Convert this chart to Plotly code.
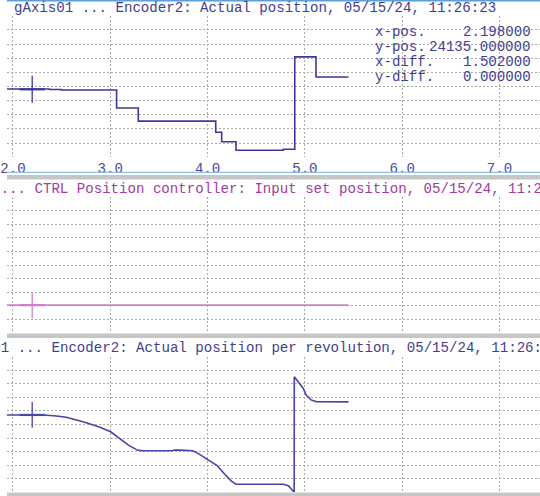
import numpy as np
import plotly.graph_objects as go

# ---------------- data ----------------
x_ticks = [2, 3, 4, 5, 6, 7]
x_tick_labels = ["2.0", "3.0", "4.0", "5.0", "6.0", "7.0"]
x_range = [1.939, 7.416]

# Panel 1: Encoder2 actual position (step trace)
pos_x = [1.90, 2.375, 2.497, 3.065, 3.288, 4.084, 4.145, 4.292, 4.779, 4.896, 5.114, 5.448]
pos_y = [24135, 24100, 24064, 22788, 21866, 21085, 20411, 19809, 19880, 26404, 24986, 24986]
pos_range = [19312, 29312]

# Panel 2: CTRL position controller input set position
set_x = [1.90, 5.448]
set_y = [24135, 24135]
set_range = [22076, 32076]

# Panel 3: Encoder2 actual position per revolution
rev_x = [1.90, 2.314, 2.446, 2.548, 2.720, 2.882, 3.004, 3.085, 3.187, 3.278, 3.329,
         3.633, 3.663, 3.714, 3.846, 3.897, 3.978, 4.049, 4.099, 4.170, 4.241, 4.292,
         4.779, 4.830, 4.860, 4.890, 4.891, 4.931, 4.982, 5.012, 5.063, 5.114, 5.448]
rev_y = [2852, 2852, 2815, 2767, 2604, 2419, 2233, 2026, 1741, 1556, 1530,
         1530, 1556, 1556, 1530, 1444, 1259, 1111, 981, 693, 419, 296,
         296, 241, 111, 0, 4259, 4085, 3841, 3593, 3408, 3345, 3333]
rev_range = [0, 5000]

titles = [
    "gAxis01 ... Encoder2: Actual position, 05/15/24, 11:26:23",
    "gAxis01 ... CTRL Position controller: Input set position, 05/15/24, 11:26:23",
    "gAxis01 ... Encoder2: Actual position per revolution, 05/15/24, 11:26:23",
]
cursor_labels = ["x-pos.", "y-pos.", "x-diff.", "y-diff."]
cursor_values = ["2.198000", "24135.000000", "1.502000", "0.000000"]
cursor_x = 2.198

# ---------------- style ----------------
W, H = 540, 496
FONT = "Liberation Mono, Courier New, monospace"
FS = 14.1
NAVY = "#3f3f91"
MAG_TXT = "#a03ca0"
LINE1 = "#3a3a9c"
LINE2 = "#cc7fcc"
LINE3 = "#4646a8"
GRID = "#a8a8a8"

def py(p):
    return 1 - p / H

panels = [
    dict(dom=[py(157), py(16)], rng=pos_range, x=pos_x, y=pos_y, color=LINE1, shape="hv"),
    dict(dom=[py(333), py(197)], rng=set_range, x=set_x, y=set_y, color=LINE2, shape="linear"),
    dict(dom=[py(492), py(357)], rng=rev_range, x=rev_x, y=rev_y, color=LINE3, shape="linear"),
]

fig = go.Figure()
for i, p in enumerate(panels):
    n = "" if i == 0 else str(i + 1)
    xa, ya = "x" + n, "y" + n
    fig.add_trace(go.Scatter(x=p["x"], y=p["y"], mode="lines", xaxis=xa, yaxis=ya,
                             line=dict(color=p["color"], width=1.6, shape=p["shape"]),
                             hoverinfo="skip", showlegend=False))
    d = (p["rng"][1] - p["rng"][0]) / 10
    cy = float(np.interp(cursor_x, p["x"], p["y"]))
    # cursor cross
    fig.add_trace(go.Scatter(x=[cursor_x, cursor_x], y=[cy - 0.95 * d, cy + 0.95 * d],
                             mode="lines", xaxis=xa, yaxis=ya,
                             line=dict(color=p["color"], width=1.3),
                             hoverinfo="skip", showlegend=False))
    fig.add_trace(go.Scatter(x=[cursor_x - 0.13, cursor_x + 0.13], y=[cy, cy],
                             mode="lines", xaxis=xa, yaxis=ya,
                             line=dict(color=p["color"], width=2.2),
                             hoverinfo="skip", showlegend=False))
    lo, hi = p["rng"]
    fig.layout["xaxis" + n] = dict(
        domain=[0, 1], range=x_range, anchor=ya, tickmode="array",
        tickvals=x_ticks, ticktext=x_tick_labels, showticklabels=(i == 0),
        ticks="", showgrid=True, gridcolor=GRID, griddash="2px,2px", gridwidth=1,
        zeroline=False, showline=False, ticklabeloverflow="allow",
        tickfont=dict(family=FONT, size=FS, color="#4a4a9a"), ticklabelstandoff=1,
    )
    fig.layout["yaxis" + n] = dict(
        domain=p["dom"], range=[lo + 0.02 * d, hi - 0.02 * d], anchor=xa,
        tick0=lo, dtick=d, showticklabels=False, ticks="", showgrid=True,
        gridcolor=GRID, griddash="2px,2px", gridwidth=1, zeroline=False, showline=False,
    )

# titles
title_y = [8.5, 189, 347.5]
title_col = [NAVY, MAG_TXT, NAVY]
for t, yy, c in zip(titles, title_y, title_col):
    fig.add_annotation(text=t, x=251 / W, y=py(yy), xref="paper", yref="paper",
                       xanchor="center", yanchor="middle", showarrow=False,
                       font=dict(family=FONT, size=FS, color=c))

# cursor readout
for k, (lab, val) in enumerate(zip(cursor_labels, cursor_values)):
    yy = py(32 + 15 * k)
    fig.add_annotation(text=lab, x=371 / W, y=yy, xref="paper", yref="paper",
                       xanchor="left", yanchor="middle", showarrow=False,
                       font=dict(family=FONT, size=FS, color=NAVY))
    fig.add_annotation(text=val, x=533 / W, y=yy, xref="paper", yref="paper",
                       xanchor="right", yanchor="middle", showarrow=False,
                       font=dict(family=FONT, size=FS, color=NAVY))

# window frame decorations
shapes = [
    dict(type="rect", xref="paper", yref="paper", x0=0, x1=1, y0=py(1.5), y1=py(0),
         fillcolor="#5a9fdc", line_width=0, layer="above"),
    dict(type="rect", xref="paper", yref="paper", x0=0, x1=1, y0=py(173), y1=py(171.8),
         fillcolor="#8dbde6", line_width=0, layer="above"),
    dict(type="rect", xref="paper", yref="paper", x0=0, x1=1, y0=py(179.5), y1=py(175),
         fillcolor="#c6c6c6", line_width=0, layer="above"),
    dict(type="rect", xref="paper", yref="paper", x0=0, x1=1, y0=py(338), y1=py(333.5),
         fillcolor="#c6c6c6", line_width=0, layer="above"),
    dict(type="rect", xref="paper", yref="paper", x0=0, x1=1, y0=py(496), y1=py(492.5),
         fillcolor="#c6c6c6", line_width=0, layer="above"),
]
fig.update_layout(shapes=shapes, width=W, height=H, autosize=False,
                  margin=dict(l=0, r=0, t=0, b=0, pad=0),
                  paper_bgcolor="white", plot_bgcolor="white", showlegend=False)

fig.write_html("out.html", config={"displayModeBar": False, "staticPlot": True},
               post_script="document.body.style.margin='0';document.body.style.overflow='hidden';")
